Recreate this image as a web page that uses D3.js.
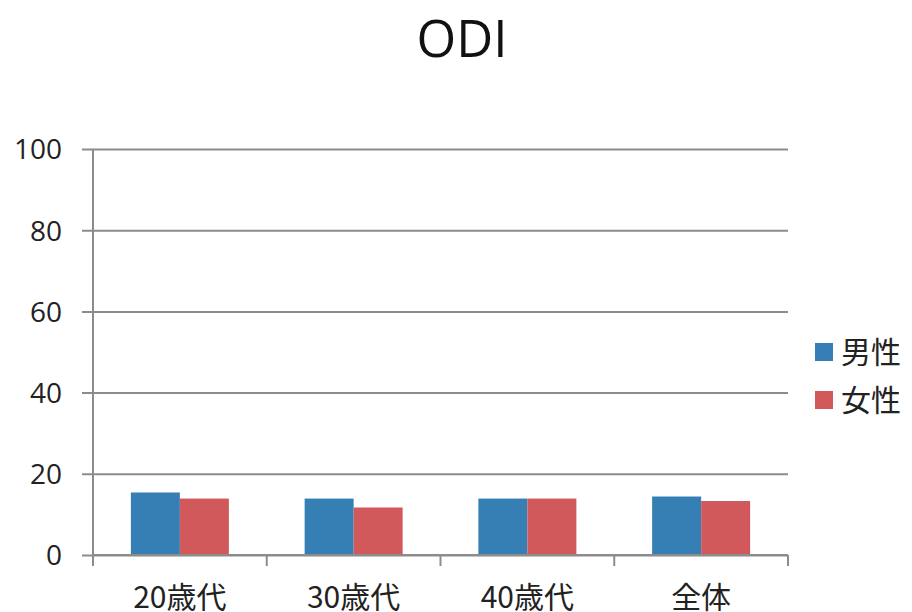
<!DOCTYPE html>
<html><head><meta charset="utf-8">
<script src="https://cdn.jsdelivr.net/npm/d3@7"></script>
<style>body{margin:0;background:#fff}</style>
</head><body>
<script>
const categories = ["20歳代","30歳代","40歳代","全体"];
const seriesNames = ["男性","女性"];
const maleValues = [15.4, 13.9, 13.9, 14.4];
const femaleValues = [13.9, 11.7, 13.9, 13.3];
const yTicks = [0,20,40,60,80,100];
const colors = ["#357FB5","#D1585B"];

(function(){
const W=912,H=612;
const svg=d3.select("body").append("svg").attr("width",W).attr("height",H);
const fontLat="'Open Sans','Noto Sans CJK JP',sans-serif";
const fontCJK="'Noto Sans CJK JP','Open Sans',sans-serif";
const pl=93,pr=788,pt=149,pb=555;
const y=d3.scaleLinear().domain([0,100]).range([pb,pt]);
const x0=d3.scaleBand().domain(categories).range([pl,pr]).padding(0);
const x1=d3.scaleBand().domain(seriesNames).range([0,x0.bandwidth()]).paddingInner(0).paddingOuter(0.773);

svg.append("text").attr("x",462).attr("y",57).attr("text-anchor","middle")
  .attr("font-family",fontLat).attr("font-size",51).attr("fill","#111").text("ODI");

const yAxis=d3.axisLeft(y).tickValues(yTicks).tickSize(pr-pl+11).tickPadding(20).tickFormat(d3.format("d"));
const gy=svg.append("g").attr("transform",`translate(${pr},0)`).call(yAxis);
gy.select(".domain").remove();
gy.selectAll(".tick line").attr("stroke","#8c8c8c").attr("stroke-width",2);
gy.selectAll(".tick text").attr("font-family",fontLat).attr("font-size",28).attr("fill","#222").attr("dy","0.35em");
svg.append("line").attr("x1",pl).attr("x2",pl).attr("y1",pt).attr("y2",pb+11).attr("stroke","#8c8c8c").attr("stroke-width",2);

const data=categories.map((c,i)=>({c,vals:[maleValues[i],femaleValues[i]]}));
const g=svg.append("g");
g.selectAll("g").data(data).join("g").attr("transform",d=>`translate(${x0(d.c)},0)`)
 .selectAll("rect").data(d=>d.vals.map((v,j)=>({s:seriesNames[j],v,j}))).join("rect")
 .attr("x",d=>x1(d.s)).attr("width",x1.bandwidth())
 .attr("y",d=>y(d.v)).attr("height",d=>y(0)-y(d.v)).attr("fill",d=>colors[d.j]);

svg.append("line").attr("x1",pl).attr("x2",pr).attr("y1",pb).attr("y2",pb).attr("stroke","#8c8c8c").attr("stroke-width",2);
const bounds=categories.map(c=>x0(c)).concat([x0(categories[categories.length-1])+x0.bandwidth()]);
svg.selectAll(".xt").data(bounds).join("line").attr("x1",d=>d).attr("x2",d=>d).attr("y1",pb).attr("y2",pb+11)
  .attr("stroke","#8c8c8c").attr("stroke-width",2);
svg.selectAll(".xl").data(categories).join("text").attr("x",d=>x0(d)+x0.bandwidth()/2).attr("y",608)
  .attr("text-anchor","middle").attr("font-family",fontCJK).attr("font-size",30).attr("fill","#222").text(d=>d);

const lg=svg.append("g");
seriesNames.forEach((s,i)=>{
  lg.append("rect").attr("x",815).attr("y",343+i*48).attr("width",18).attr("height",18).attr("fill",colors[i]);
  lg.append("text").attr("x",841).attr("y",352+i*48).attr("dy","0.36em").attr("font-family",fontCJK).attr("font-size",30).attr("fill","#222").text(s);
});
})();
</script>
</body></html>
